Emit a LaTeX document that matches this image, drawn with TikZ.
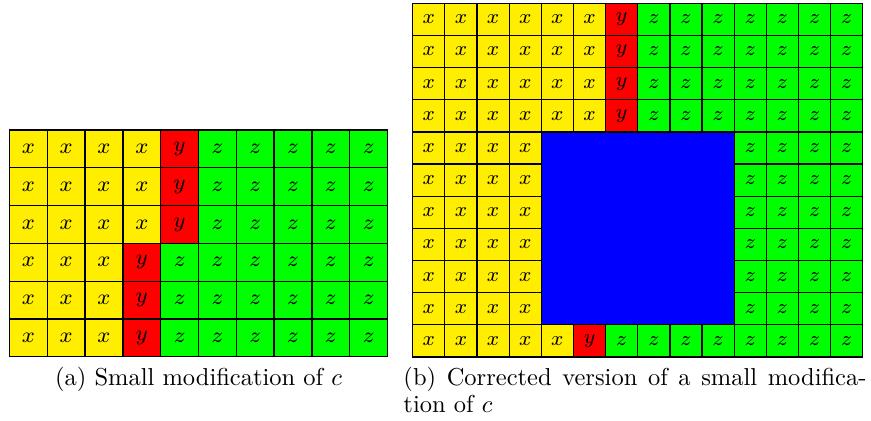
\RequirePackage{fix-cm}
\documentclass[tikz,border=0pt]{standalone}
\definecolor{myyellow}{RGB}{255,238,0}
\definecolor{myred}{RGB}{255,0,0}
\definecolor{mygreen}{RGB}{0,255,0}
\definecolor{myblue}{RGB}{0,0,255}
\begin{document}
\begin{tikzpicture}[x=0.4082pt,y=-0.4082pt,
  base/.style={draw=black, line width=0.5pt, inner sep=0pt, outer sep=0pt, text=black},
  cellL/.style={base, minimum width=15.43pt, minimum height=15.43pt, font=\fontsize{8.9}{10}\selectfont},
  cellR/.style={base, minimum width=13.12pt, minimum height=13.12pt, font=\fontsize{8.4}{10}\selectfont},
  cx/.style={fill=myyellow}, cy/.style={fill=myred}, cz/.style={fill=mygreen},
  captext/.style={inner sep=0pt, anchor=base, font=\normalsize}]
\useasboundingbox (0,0) rectangle (871,421);
% left grid
\foreach \row [count=\r from 0] in {
  {x,x,x,x,y,z,z,z,z,z},
  {x,x,x,x,y,z,z,z,z,z},
  {x,x,x,x,y,z,z,z,z,z},
  {x,x,x,y,z,z,z,z,z,z},
  {x,x,x,y,z,z,z,z,z,z},
  {x,x,x,y,z,z,z,z,z,z}}{
  \foreach \l [count=\c from 0] in \row {
    \node[cellL, c\l] (L-\r-\c) at ({9.5+37.8*(\c+0.5)},{130+37.8*(\r+0.5)}) {$\l$};
  }
}
% right grid
\foreach \row [count=\r from 0] in {
  {x,x,x,x,x,x,y,z,z,z,z,z,z,z},
  {x,x,x,x,x,x,y,z,z,z,z,z,z,z},
  {x,x,x,x,x,x,y,z,z,z,z,z,z,z},
  {x,x,x,x,x,x,y,z,z,z,z,z,z,z},
  {x,x,x,x,n,n,n,n,n,n,z,z,z,z},
  {x,x,x,x,n,n,n,n,n,n,z,z,z,z},
  {x,x,x,x,n,n,n,n,n,n,z,z,z,z},
  {x,x,x,x,n,n,n,n,n,n,z,z,z,z},
  {x,x,x,x,n,n,n,n,n,n,z,z,z,z},
  {x,x,x,x,n,n,n,n,n,n,z,z,z,z},
  {x,x,x,x,x,y,z,z,z,z,z,z,z,z}}{
  \foreach \l [count=\c from 0] in \row {
    \if\l n\relax\else
    \node[cellR, c\l] (R-\r-\c) at ({412.7+32.15*(\c+0.5)},{3.3+32.15*(\r+0.5)}) {$\l$};
    \fi
  }
}
\node[base, fill=myblue, anchor=north west, minimum width=78.74pt, minimum height=78.74pt] (hole) at (541.3,131.9) {};
% captions
\node[captext] (capa) at (198.5,385.5) {(a) Small modification of $c$};
\node[captext, anchor=base west] (capb1) at (403,385.5) {\makebox[189pt][s]{(b) Corrected version of a small modifica-}};
\node[captext, anchor=base west] (capb2) at (403,412) {tion of $c$};
\end{tikzpicture}
\end{document}
